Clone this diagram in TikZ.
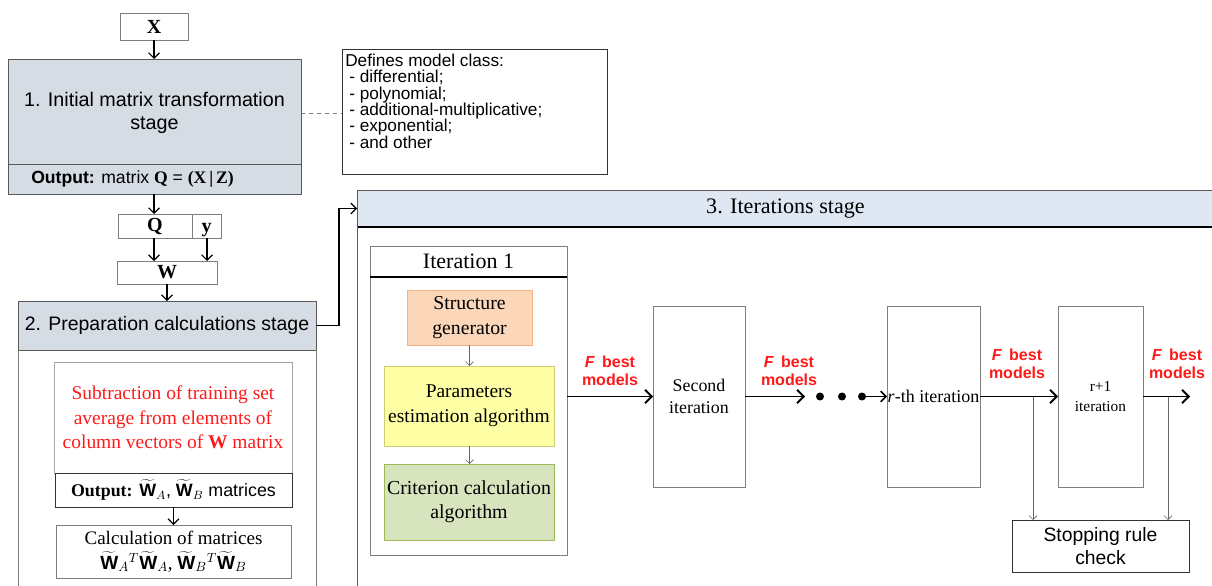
\documentclass[tikz,border=0pt]{standalone}
\usepackage{fontspec}
\setmainfont{Liberation Sans}
\newfontfamily\tnr{Liberation Serif}
\usetikzlibrary{arrows.meta}
\definecolor{hdrA}{HTML}{D6DCE4}
\definecolor{hdrC}{HTML}{DEE7F2}
\definecolor{edgeg}{HTML}{7F7F7F}
\definecolor{sgfill}{HTML}{FBD6B8}
\definecolor{sgedge}{HTML}{F4B183}
\definecolor{pefill}{HTML}{FFFFA6}
\definecolor{peedge}{HTML}{CDCD72}
\definecolor{ccfill}{HTML}{D8E4BE}
\definecolor{ccedge}{HTML}{9BBB59}
\definecolor{redt}{HTML}{FF1A1A}
\tikzset{
  R/.style args={#1,#2,#3,#4}{at={({(#1+#3)/2},{(#2+#4)/2})},
     minimum width={(#3-#1)*0.75pt}, minimum height={(#4-#2)*0.75pt}},
  bx/.style={draw=edgeg, line width=0.6pt, inner sep=0pt, outer sep=0pt, rectangle, align=center},
  arr/.style={-{Straight Barb[length=4pt,width=8pt]}, line width=0.9pt, black},
  tarr/.style={-{Straight Barb[length=5pt,width=10pt]}, line width=1.4pt, black},
  garr/.style={-{Straight Barb[length=3pt,width=6pt]}, line width=0.5pt, black!60},
  lbl/.style={text=redt, font=\bfseries\fontsize{12}{13.5}\selectfont, align=center, inner sep=0pt},
}
\begin{document}
\begin{tikzpicture}[x=0.75pt,y=-0.75pt]
\useasboundingbox (0,0) rectangle (1212,585);

% ---------- stage 1 ----------
\node[bx, R={120,13,188,40}, font=\tnr\bfseries\fontsize{15}{17}\selectfont] (X) {X};
\node[bx, draw=black!65, fill=hdrA, R={8,59,301,194}] (s1) {};
\draw[black!65, line width=0.6pt] (8,164) -- (301,164);
\node[align=center, font=\fontsize{14.8}{17.5}\selectfont] (s1t) at (154.5,113) {1. Initial matrix transformation\\stage};
\node[anchor=west, font=\fontsize{13.2}{15}\selectfont, inner sep=0pt] (s1o) at (31,179)
  {\textbf{Output:} matrix {\tnr\bfseries Q} = {\tnr\bfseries (X\,|\,Z)}};

\node[bx, draw=black!80, R={342,49,607,174}] (def) {};
\node[anchor=north west, align=left, inner sep=0pt, font=\fontsize{12.9}{12.2}\selectfont] (deft) at (345,54)
  {Defines model class:\\\hspace*{3pt}- differential;\\\hspace*{3pt}- polynomial;\\\hspace*{3pt}- additional-multiplicative;\\\hspace*{3pt}- exponential;\\\hspace*{3pt}- and other};
\draw[dashed, edgeg, line width=0.5pt] (s1.east |- s1t) -- (def.west |- s1t);

\node[bx, R={118,214,192,238}, font=\tnr\bfseries\fontsize{15}{17}\selectfont] (Q) {Q};
\node[bx, R={192,214,221,238}] (yv) {};
\node[anchor=base, inner sep=0pt, font=\tnr\bfseries\fontsize{15}{17}\selectfont] (yvt) at (206.5,232) {y};
\node[bx, R={117,261,217,284}, font=\tnr\bfseries\fontsize{15}{17}\selectfont] (W) {W};

\draw[arr] (X.south) -- (X.south |- s1.north);
\draw[arr] (s1.south -| 154,0) -- (Q.north -| 154,0);
\draw[arr] (Q.south -| 154,0) -- (W.north -| 154,0);
\draw[arr] (yv.south -| 207,0) -- (W.north -| 207,0);

% ---------- stage 2 ----------
\node[bx, draw=black!65, fill=hdrA, R={18,301,316,350}, font=\fontsize{14.6}{16}\selectfont] (s2h) {2. Preparation calculations stage};
\draw[arr] (W.south -| 167,0) -- (s2h.north -| 167,0);
\draw[edgeg, line width=0.6pt] (s2h.south west) -- (18,586);
\draw[edgeg, line width=0.6pt] (s2h.south east) -- (316,586);

\node[bx, draw=black!35, R={54,362,292,473}, text=redt, font=\tnr\fontsize{14.6}{18.4}\selectfont] (sub)
  {Subtraction of training set\\average from elements of\\column vectors of \textbf{W} matrix};
\node[bx, draw=black!80, R={55,473,292,507}, font=\fontsize{13.4}{14}\selectfont] (ow)
  {{\tnr\bfseries Output:} $\widetilde{\mathbf{W}}_{A}$, $\widetilde{\mathbf{W}}_{B}$ matrices};
\node[bx, R={56,525,291,578}, font=\tnr\fontsize{14.3}{18.5}\selectfont] (calc)
  {Calculation of matrices\\$\widetilde{\mathbf{W}}_{A}{}^{T}\widetilde{\mathbf{W}}_{A}$, $\widetilde{\mathbf{W}}_{B}{}^{T}\widetilde{\mathbf{W}}_{B}$};
\draw[arr] (ow.south) -- (calc.north);

% ---------- stage 3 ----------
\node[R={357,190,1214,227}, fill=hdrC, inner sep=0pt, outer sep=0pt, font=\tnr\fontsize{16.6}{19}\selectfont] (s3h) {3. Iterations stage};
\draw[black!65, line width=0.6pt] (s3h.north west) -- (s3h.north east);
\draw[black, line width=1pt] (s3h.south west) -- (s3h.south east);
\draw[black!65, line width=0.6pt] (s3h.north west) -- (357,586);
\draw[arr] (s2h.east) -- (339,325.5) |- (s3h.west);

\node[bx, R={370,246,567,555}] (it1) {};
\draw[black, line width=0.8pt] (370,277) -- (567,277);
\node[font=\tnr\fontsize{16.5}{19}\selectfont] (it1t) at (468.5,261) {Iteration 1};
\node[bx, draw=sgedge, fill=sgfill, R={407,290,532,345}, font=\tnr\fontsize{14.8}{18.5}\selectfont] (sg) {Structure\\generator};
\node[bx, draw=peedge, fill=pefill, R={384,366,554,446}, font=\tnr\fontsize{14.6}{19}\selectfont] (pe) {Parameters\\estimation algorithm};
\node[bx, draw=ccedge, fill=ccfill, R={384,464,554,540}, font=\tnr\fontsize{14.9}{18}\selectfont] (cc) {Criterion calculation\\algorithm};
\draw[garr] (sg.south -| 469.5,0) -- (pe.north -| 469.5,0);
\draw[garr] (pe.south -| 469.5,0) -- (cc.north -| 469.5,0);

\node[bx, R={653,306,745,487}, font=\tnr\fontsize{13.4}{17}\selectfont] (sec) {Second\\iteration};
\node[bx, R={887,306,980,487}, font=\tnr\fontsize{13.5}{16}\selectfont] (rth) {\hspace*{-3pt}\textit{r}-th iteration\hspace*{-3pt}};
\node[bx, R={1058,306,1143,487}, font=\tnr\fontsize{11.5}{15}\selectfont] (r1) {r+1\\iteration};
\node[bx, draw=black!80, R={1012,520,1189,572}, font=\fontsize{14.5}{17}\selectfont] (stop) {Stopping rule\\check};

\coordinate (c1) at (805,396.5);
\coordinate (c2) at (866,396.5);
\coordinate (cend) at (1190,396.5);
\coordinate (t1) at (1033,396.5);
\coordinate (t2) at (1168,396.5);
\node[circle, fill=black, inner sep=0pt, minimum size=6pt] (d1) at (820,396.5) {};
\node[circle, fill=black, inner sep=0pt, minimum size=6pt] (d2) at (842,396.5) {};
\node[circle, fill=black, inner sep=0pt, minimum size=6pt] (d3) at (862,396.5) {};

\draw[tarr] (sec.west -| it1.east) -- (sec.west);
\draw[tarr] (sec.east) -- (c1);
\draw[arr, line width=1.1pt] (c2) -- (rth.west);
\draw[tarr] (rth.east) -- (r1.west);
\draw[tarr] (r1.east) -- (cend);
\draw[garr] (t1) -- (t1 |- stop.north);
\draw[garr] (t2) -- (t2 |- stop.north);

\node[lbl] (l1) at (610,371) {\textit{F}\, best\\models};
\node[lbl] (l2) at (789,371) {\textit{F}\, best\\models};
\node[lbl] (l3) at (1017,364) {\textit{F}\, best\\models};
\node[lbl] (l4) at (1177,364) {\textit{F}\, best\\models};
\end{tikzpicture}
\end{document}
